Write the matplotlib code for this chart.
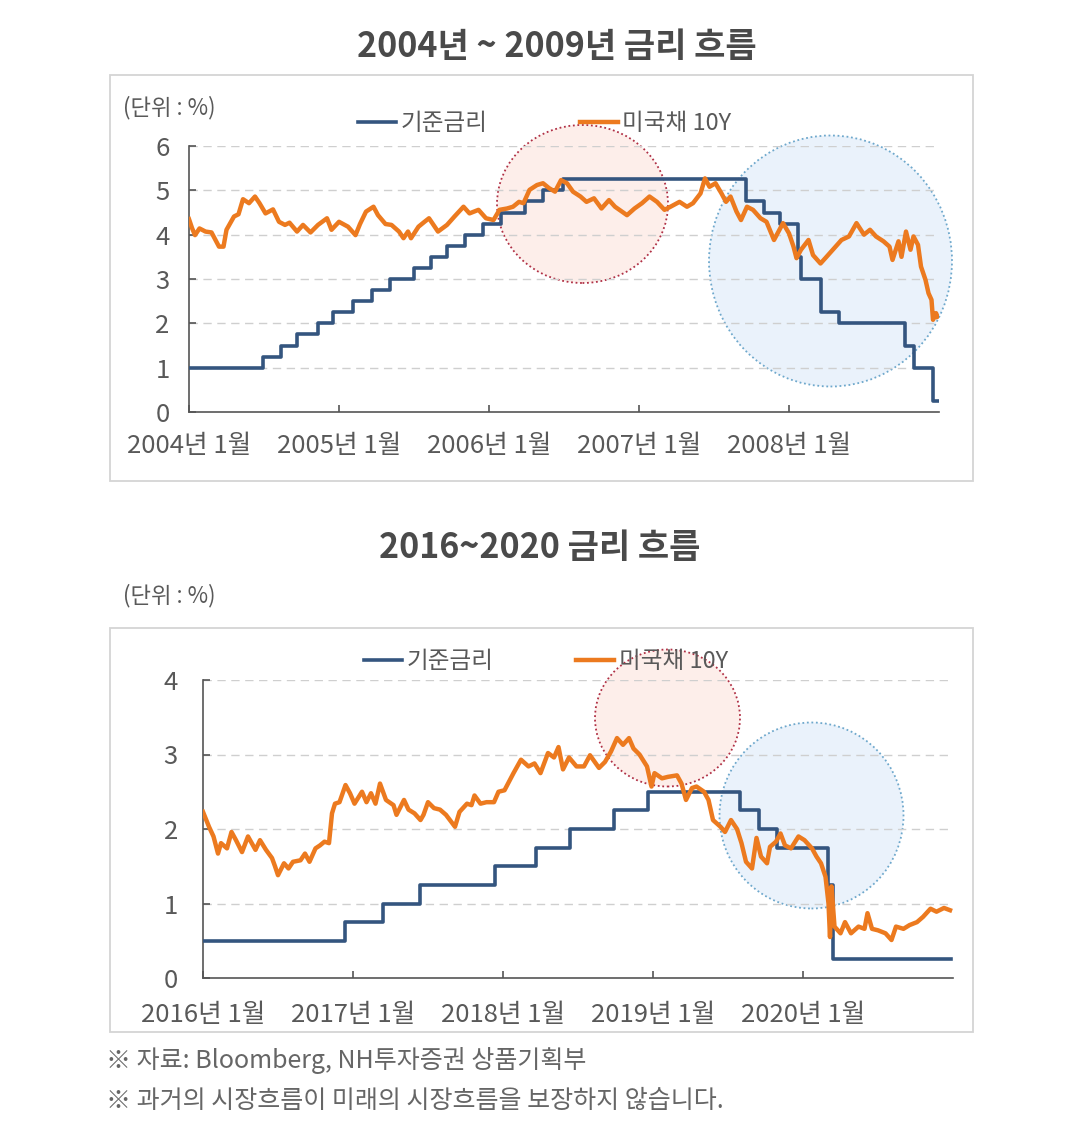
import matplotlib
matplotlib.use('Agg')
import matplotlib.pyplot as plt
from matplotlib.patches import Ellipse, Rectangle

plt.rcParams['font.family'] = ['Noto Sans CJK KR', 'DejaVu Sans']

# ---- data (decimal years) ----
# 2004 ~ 2008
fed_t1 = [2004.00, 2004.49, 2004.61, 2004.72, 2004.86, 2004.96, 2005.09, 2005.22,
          2005.34, 2005.50, 2005.61, 2005.72, 2005.84, 2005.96, 2006.08, 2006.24,
          2006.36, 2006.49, 2007.71, 2007.83, 2007.94, 2008.06, 2008.08, 2008.21,
          2008.33, 2008.77, 2008.83, 2008.96, 2008.99]
fed_v1 = [1.00, 1.25, 1.50, 1.75, 2.00, 2.25, 2.50, 2.75,
          3.00, 3.25, 3.50, 3.75, 4.00, 4.25, 4.50, 4.75,
          5.00, 5.25, 4.75, 4.50, 4.25, 3.50, 3.00, 2.25,
          2.00, 1.50, 1.00, 0.25, 0.25]

ust_t1 = [2004.00, 2004.02, 2004.04, 2004.07, 2004.11, 2004.15, 2004.20, 2004.23, 2004.25,
          2004.30, 2004.33, 2004.36, 2004.40, 2004.44, 2004.47, 2004.51, 2004.56, 2004.60,
          2004.64, 2004.67, 2004.72, 2004.76, 2004.81, 2004.86, 2004.92, 2004.95, 2005.00,
          2005.06, 2005.11, 2005.14, 2005.18, 2005.23, 2005.26, 2005.31, 2005.35, 2005.40,
          2005.43, 2005.46, 2005.48, 2005.53, 2005.57, 2005.60, 2005.66, 2005.72, 2005.77,
          2005.83, 2005.87, 2005.93, 2005.98, 2006.03, 2006.07, 2006.12, 2006.16, 2006.20,
          2006.23, 2006.27, 2006.32, 2006.36, 2006.40, 2006.44, 2006.48, 2006.52, 2006.56,
          2006.61, 2006.65, 2006.70, 2006.75, 2006.80, 2006.84, 2006.92, 2006.97, 2007.02,
          2007.07, 2007.12, 2007.17, 2007.21, 2007.27, 2007.32, 2007.36, 2007.41, 2007.44,
          2007.47, 2007.51, 2007.55, 2007.58, 2007.61, 2007.65, 2007.68, 2007.72, 2007.76,
          2007.81, 2007.85, 2007.90, 2007.93, 2007.96, 2008.00, 2008.03, 2008.05, 2008.08,
          2008.13, 2008.16, 2008.21, 2008.25, 2008.30, 2008.35, 2008.40, 2008.45, 2008.50,
          2008.54, 2008.58, 2008.63, 2008.67, 2008.69, 2008.73, 2008.75, 2008.78, 2008.81,
          2008.83, 2008.86, 2008.88, 2008.91, 2008.93, 2008.95, 2008.96, 2008.98, 2008.99]
ust_v1 = [4.35, 4.15, 3.99, 4.14, 4.07, 4.05, 3.73, 3.73, 4.11,
          4.41, 4.46, 4.80, 4.71, 4.86, 4.71, 4.48, 4.57, 4.29,
          4.22, 4.27, 4.07, 4.22, 4.05, 4.22, 4.37, 4.11, 4.29,
          4.18, 3.99, 4.24, 4.52, 4.63, 4.44, 4.24, 4.22, 4.07,
          3.92, 4.07, 3.92, 4.18, 4.29, 4.37, 4.07, 4.22, 4.41,
          4.63, 4.48, 4.56, 4.37, 4.33, 4.56, 4.59, 4.63, 4.74,
          4.71, 5.01, 5.12, 5.16, 5.05, 4.97, 5.23, 5.16, 4.97,
          4.86, 4.74, 4.82, 4.59, 4.78, 4.63, 4.44, 4.59, 4.71,
          4.86, 4.74, 4.56, 4.63, 4.74, 4.63, 4.71, 4.93, 5.27,
          5.08, 5.16, 4.93, 4.74, 4.86, 4.52, 4.33, 4.63, 4.56,
          4.37, 4.29, 3.88, 4.07, 4.26, 4.03, 3.73, 3.47, 3.66,
          3.88, 3.54, 3.35, 3.50, 3.69, 3.88, 3.96, 4.26, 4.00,
          4.11, 3.96, 3.85, 3.73, 3.43, 3.85, 3.50, 4.07, 3.66,
          3.96, 3.77, 3.28, 2.98, 2.68, 2.53, 2.08, 2.23, 2.15]

# 2016 ~ 2020
fed_t2 = [2016.00, 2016.95, 2017.20, 2017.45, 2017.95, 2018.22, 2018.45, 2018.74,
          2018.97, 2019.58, 2019.71, 2019.83, 2020.17, 2020.20, 2020.99]
fed_v2 = [0.50, 0.75, 1.00, 1.25, 1.50, 1.75, 2.00, 2.25,
          2.50, 2.25, 2.00, 1.75, 1.25, 0.25, 0.25]

ust_t2 = [2016.00, 2016.04, 2016.07, 2016.10, 2016.12, 2016.16, 2016.19, 2016.22, 2016.26,
          2016.30, 2016.35, 2016.38, 2016.42, 2016.46, 2016.48, 2016.50, 2016.54, 2016.57,
          2016.60, 2016.65, 2016.68, 2016.71, 2016.75, 2016.78, 2016.81, 2016.84, 2016.86,
          2016.88, 2016.91, 2016.95, 2016.98, 2017.01, 2017.06, 2017.09, 2017.12, 2017.15,
          2017.18, 2017.22, 2017.27, 2017.29, 2017.34, 2017.37, 2017.41, 2017.45, 2017.47,
          2017.50, 2017.54, 2017.58, 2017.62, 2017.68, 2017.71, 2017.76, 2017.79, 2017.81,
          2017.85, 2017.89, 2017.94, 2017.97, 2018.01, 2018.07, 2018.12, 2018.17, 2018.21,
          2018.25, 2018.30, 2018.34, 2018.37, 2018.40, 2018.44, 2018.49, 2018.54, 2018.58,
          2018.64, 2018.68, 2018.72, 2018.76, 2018.80, 2018.84, 2018.87, 2018.91, 2018.96,
          2018.99, 2019.01, 2019.06, 2019.10, 2019.16, 2019.19, 2019.22, 2019.26, 2019.29,
          2019.34, 2019.37, 2019.40, 2019.45, 2019.48, 2019.52, 2019.56, 2019.59, 2019.62,
          2019.66, 2019.69, 2019.72, 2019.76, 2019.78, 2019.82, 2019.85, 2019.88, 2019.92,
          2019.97, 2020.01, 2020.06, 2020.09, 2020.12, 2020.15, 2020.17, 2020.18, 2020.19,
          2020.21, 2020.25, 2020.28, 2020.32, 2020.37, 2020.41, 2020.43, 2020.46, 2020.50,
          2020.55, 2020.59, 2020.62, 2020.67, 2020.71, 2020.76, 2020.80, 2020.85, 2020.89,
          2020.94, 2020.98]
ust_v2 = [2.23, 2.03, 1.90, 1.67, 1.81, 1.74, 1.96, 1.85, 1.69,
          1.90, 1.72, 1.85, 1.72, 1.61, 1.50, 1.38, 1.54, 1.47,
          1.56, 1.58, 1.67, 1.56, 1.74, 1.78, 1.83, 1.81, 2.21,
          2.34, 2.36, 2.59, 2.48, 2.34, 2.50, 2.36, 2.48, 2.34,
          2.61, 2.39, 2.32, 2.19, 2.39, 2.26, 2.21, 2.12, 2.19,
          2.36, 2.28, 2.26, 2.19, 2.03, 2.23, 2.34, 2.32, 2.45,
          2.34, 2.36, 2.36, 2.50, 2.52, 2.75, 2.93, 2.84, 2.88,
          2.75, 3.02, 2.96, 3.10, 2.80, 2.96, 2.84, 2.84, 2.99,
          2.82, 2.90, 3.04, 3.22, 3.13, 3.22, 3.08, 3.00, 2.84,
          2.57, 2.75, 2.68, 2.70, 2.72, 2.61, 2.39, 2.55, 2.57,
          2.50, 2.39, 2.12, 2.03, 1.96, 2.12, 2.00, 1.81, 1.56,
          1.47, 1.88, 1.63, 1.54, 1.76, 1.83, 1.94, 1.78, 1.74,
          1.90, 1.85, 1.74, 1.63, 1.54, 1.36, 1.00, 0.55, 1.23,
          0.69, 0.60, 0.75, 0.60, 0.69, 0.66, 0.87, 0.66, 0.64,
          0.60, 0.51, 0.69, 0.66, 0.71, 0.75, 0.82, 0.93, 0.89,
          0.94, 0.91]

years1 = [2004, 2005, 2006, 2007, 2008]
years2 = [2016, 2017, 2018, 2019, 2020]

BLUE = '#34557f'
ORANGE = '#ec7a1f'
GRAY = '#595959'

W, H = 1074, 1127
fig = plt.figure(figsize=(W / 100, H / 100), dpi=100)
fig.patch.set_facecolor('white')


def fx(px):
    return px / W


def fy(py):
    return 1 - py / H


def ellipse(cx, cy, w, h, face, edge):
    e = Ellipse((fx(cx), fy(cy)), w / W, h / H, transform=fig.transFigure,
                facecolor=face, edgecolor=edge, lw=1.3, linestyle=(0, (1, 1.5)),
                zorder=-1)
    fig.patches.append(e)


def frame(x0, y0, x1, y1):
    r = Rectangle((fx(x0), fy(y1)), fx(x1) - fx(x0), fy(y0) - fy(y1),
                  transform=fig.transFigure, fill=False, edgecolor='#d4d4d4',
                  lw=1.3, zorder=-2)
    fig.patches.append(r)


def setup(ax, years, ymax, xpad, ypad):
    ax.set_facecolor('none')
    ax.set_xlim(years[0], years[-1] + 1)
    ax.set_ylim(0, ymax)
    ax.set_yticks(range(0, ymax + 1))
    ax.set_xticks(years)
    ax.set_xticklabels([f'{y}년 1월' for y in years])
    for s in ['top', 'right']:
        ax.spines[s].set_visible(False)
    for s in ['left', 'bottom']:
        ax.spines[s].set_color('#555555')
        ax.spines[s].set_linewidth(1.2)
    ax.tick_params(axis='both', direction='in', length=5, width=1.2,
                   color='#555555', labelcolor=GRAY, labelsize=18.5)
    ax.tick_params(axis='x', pad=xpad)
    ax.tick_params(axis='y', pad=ypad)
    for yv in range(1, ymax + 1):
        ax.axhline(yv, color='#cfcfcf', lw=1, ls=(0, (6, 4)), zorder=0.5)


frame(110, 75, 973, 481)
frame(110, 628, 973, 1032)

ellipse(582.5, 204, 171, 158, '#fdeeea', '#b03045')
ellipse(830.5, 261, 243, 251, '#eaf2fb', '#6ea8cc')
ellipse(667.5, 718, 145, 137, '#fdeeea', '#b03045')
ellipse(811.5, 815.5, 184, 186, '#eaf2fb', '#6ea8cc')

# ---- top chart ----
ax1 = fig.add_axes([fx(189), fy(412), fx(939) - fx(189), fy(146) - fy(412)])
setup(ax1, years1, 6, 15, 14)
l1, = ax1.step(fed_t1, fed_v1, where='post', color=BLUE, lw=2.6, zorder=3)
l2, = ax1.plot(ust_t1, ust_v1, color=ORANGE, lw=3.2, zorder=4)
ax1.legend([l1, l2], ['기준금리', '미국채 10Y'], loc='center', ncol=2,
           bbox_to_anchor=(fx(545), fy(124)), bbox_transform=fig.transFigure,
           frameon=False, fontsize=17, handlelength=1.6, handletextpad=0.2,
           columnspacing=3.9, labelcolor=GRAY)

# ---- bottom chart ----
ax2 = fig.add_axes([fx(203), fy(978), fx(953) - fx(203), fy(680) - fy(978)])
setup(ax2, years2, 4, 17, 18)
m1, = ax2.step(fed_t2, fed_v2, where='post', color=BLUE, lw=2.6, zorder=3)
m2, = ax2.plot(ust_t2, ust_v2, color=ORANGE, lw=3.2, zorder=4)
ax2.legend([m1, m2], ['기준금리', '미국채 10Y'], loc='center', ncol=2,
           bbox_to_anchor=(fx(546), fy(662)), bbox_transform=fig.transFigure,
           frameon=False, fontsize=17, handlelength=1.6, handletextpad=0.2,
           columnspacing=3.5, labelcolor=GRAY)

# ---- texts ----
fig.text(fx(557), fy(47), '2004년 ~ 2009년 금리 흐름', ha='center', va='center',
         fontsize=24.5, fontweight='bold', color='#4a4a4a')
fig.text(fx(540), fy(547), '2016~2020 금리 흐름', ha='center', va='center',
         fontsize=24.5, fontweight='bold', color='#4a4a4a')
fig.text(fx(123), fy(108), '(단위 : %)', ha='left', va='center', fontsize=16, color=GRAY)
fig.text(fx(123), fy(596), '(단위 : %)', ha='left', va='center', fontsize=16, color=GRAY)
fig.text(fx(106), fy(1060), '※ 자료: Bloomberg, NH투자증권 상품기획부', ha='left',
         va='center', fontsize=18, color='#666666')
fig.text(fx(106), fy(1101), '※ 과거의 시장흐름이 미래의 시장흐름을 보장하지 않습니다.', ha='left',
         va='center', fontsize=18, color='#666666')

fig.savefig('out.png', dpi=100)
